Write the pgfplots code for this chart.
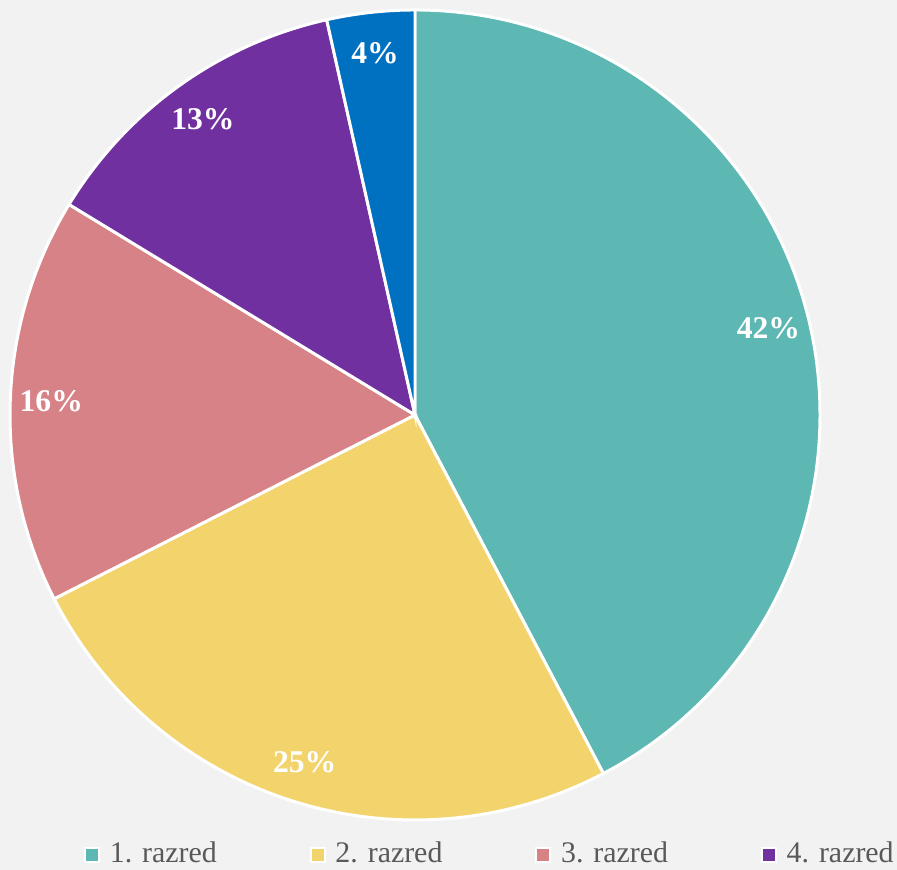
\documentclass[border=0pt]{standalone}
\usepackage{pgfplots}
\pgfplotsset{compat=1.18}
\usepackage{fontspec}
\setmainfont{Liberation Serif}
\definecolor{c1}{HTML}{5DB8B3}
\definecolor{c2}{HTML}{F3D46C}
\definecolor{c3}{HTML}{D78286}
\definecolor{c4}{HTML}{7030A0}
\definecolor{c5}{HTML}{0070C0}
\definecolor{bg}{HTML}{F2F2F2}
\definecolor{txt}{HTML}{595959}
% shares of the five grades (percent)
\xdef\cum{0}%
\foreach \v [count=\i] in {42.3,25.2,16.2,12.8,3.5}{%
  \pgfmathsetmacro\a{90-3.6*\cum}%
  \pgfmathsetmacro\nc{\cum+\v}%
  \pgfmathsetmacro\b{90-3.6*\nc}%
  \pgfmathsetmacro\m{(\a+\b)/2}%
  \pgfmathtruncatemacro\p{round(\v)}%
  \expandafter\xdef\csname sa\i\endcsname{\a}%
  \expandafter\xdef\csname eb\i\endcsname{\b}%
  \expandafter\xdef\csname mid\i\endcsname{\m}%
  \expandafter\xdef\csname pc\i\endcsname{\p}%
  \xdef\cum{\nc}%
}%
\begin{document}
\begin{tikzpicture}
\useasboundingbox (0,0) rectangle (8.97,8.70);
\clip (0,0) rectangle (8.97,8.70);
\fill[bg] (0,0) rectangle (8.97,8.70);
\begin{axis}[hide axis, x=1cm, y=1cm, xmin=0, xmax=8.97, ymin=0, ymax=8.70,
  at={(0,0)}, anchor=south west, clip=false,
  legend columns=4,
  legend style={at={(axis cs:0.73,0.15)}, anchor=west, draw=none, fill=none,
    font=\fontsize{8.5}{10}\selectfont, text=txt,
    /tikz/every even column/.append style={column sep=0.86cm}},
  legend image code/.code={\draw[#1, draw=white, line width=0.5pt] (0cm,-0.07cm) rectangle (0.14cm,0.07cm); \path (0.17cm,0);}]
\pgfplotsinvokeforeach{1,2,3,4,5}{%
  \fill[c#1, draw=white, line width=0.85pt] (axis cs:4.15,4.55) -- ++(\csname sa#1\endcsname:4.05cm)
    arc[start angle=\csname sa#1\endcsname, end angle=\csname eb#1\endcsname, radius=4.05cm] -- cycle;
}
\pgfplotsinvokeforeach{1,2,3,4,5}{%
  \path (axis cs:4.15,4.55) ++(\csname mid#1\endcsname:3.64cm)
    node[text=white, font=\bfseries\fontsize{9}{10}\selectfont] {\csname pc#1\endcsname\%};
}
\addlegendimage{fill=c1}\addlegendentry{1. razred}
\addlegendimage{fill=c2}\addlegendentry{2. razred}
\addlegendimage{fill=c3}\addlegendentry{3. razred}
\addlegendimage{fill=c4}\addlegendentry{4. razred}
\end{axis}
\end{tikzpicture}
\end{document}
